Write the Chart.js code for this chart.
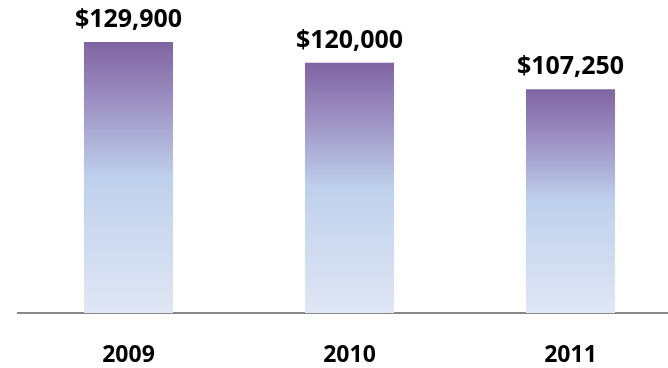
<!DOCTYPE html>
<html>
<head>
<meta charset="utf-8">
<script src="https://cdn.jsdelivr.net/npm/chart.js@4"></script>
<style>
  html, body { margin: 0; padding: 0; background: #fff; overflow: hidden; }
  #wrap { width: 700px; height: 368px; }
</style>
</head>
<body>
<div id="wrap"><canvas id="bar-chart"></canvas></div>
<script>
var years = ['2009', '2010', '2011'];
var prices = [129900, 120000, 107250];

var labelFont = 'bold 25px "Open Sans", sans-serif';

// vertical fill per bar: purple on top fading to pale blue at the base
function barFill(ctx) {
    var chart = ctx.chart;
    if (!chart.chartArea) return '#b9cde5';
    var y = chart.scales.y;
    var top = y.getPixelForValue(ctx.raw);
    var base = y.getPixelForValue(0);
    var g = chart.ctx.createLinearGradient(0, top, 0, base);
    g.addColorStop(0, '#8064a2');
    g.addColorStop(0.22, '#9c90c2');
    g.addColorStop(0.5, '#bfd0ec');
    g.addColorStop(1, '#e0e6f4');
    return g;
}

// dollar amounts above each bar
var valueLabels = {
    id: 'valueLabels',
    afterDatasetsDraw: function (chart) {
        var c = chart.ctx;
        var meta = chart.getDatasetMeta(0);
        c.save();
        c.font = labelFont;
        c.fillStyle = '#000';
        c.textAlign = 'center';
        c.textBaseline = 'alphabetic';
        meta.data.forEach(function (bar, i) {
            c.fillText('$' + prices[i].toLocaleString('en-US'), bar.x, bar.y - 15);
        });
        c.restore();
    }
};

var ctx = document.getElementById('bar-chart');
var myChart = new Chart(ctx, {
    type: 'bar',
    data: {
        labels: years,
        datasets: [{
            data: prices,
            backgroundColor: barFill,
            borderWidth: 0,
            barPercentage: 0.403,
            categoryPercentage: 1
        }]
    },
    options: {
        responsive: true,
        maintainAspectRatio: false,
        animation: false,
        layout: { padding: { top: 21, left: 18, right: 19, bottom: 0 } },
        plugins: { legend: { display: false }, tooltip: { enabled: false } },
        scales: {
            y: { display: false, min: 0, max: 140000 },
            x: {
                grid: { display: false, drawTicks: false },
                border: { display: true, color: '#878787', width: 2 },
                ticks: {
                    color: '#000',
                    font: { family: '"Open Sans", sans-serif', size: 23, weight: 'bold' },
                    padding: 29
                },
                afterFit: function (scale) { scale.height = 55; }
            }
        }
    },
    plugins: [valueLabels]
});
</script>
</body>
</html>
